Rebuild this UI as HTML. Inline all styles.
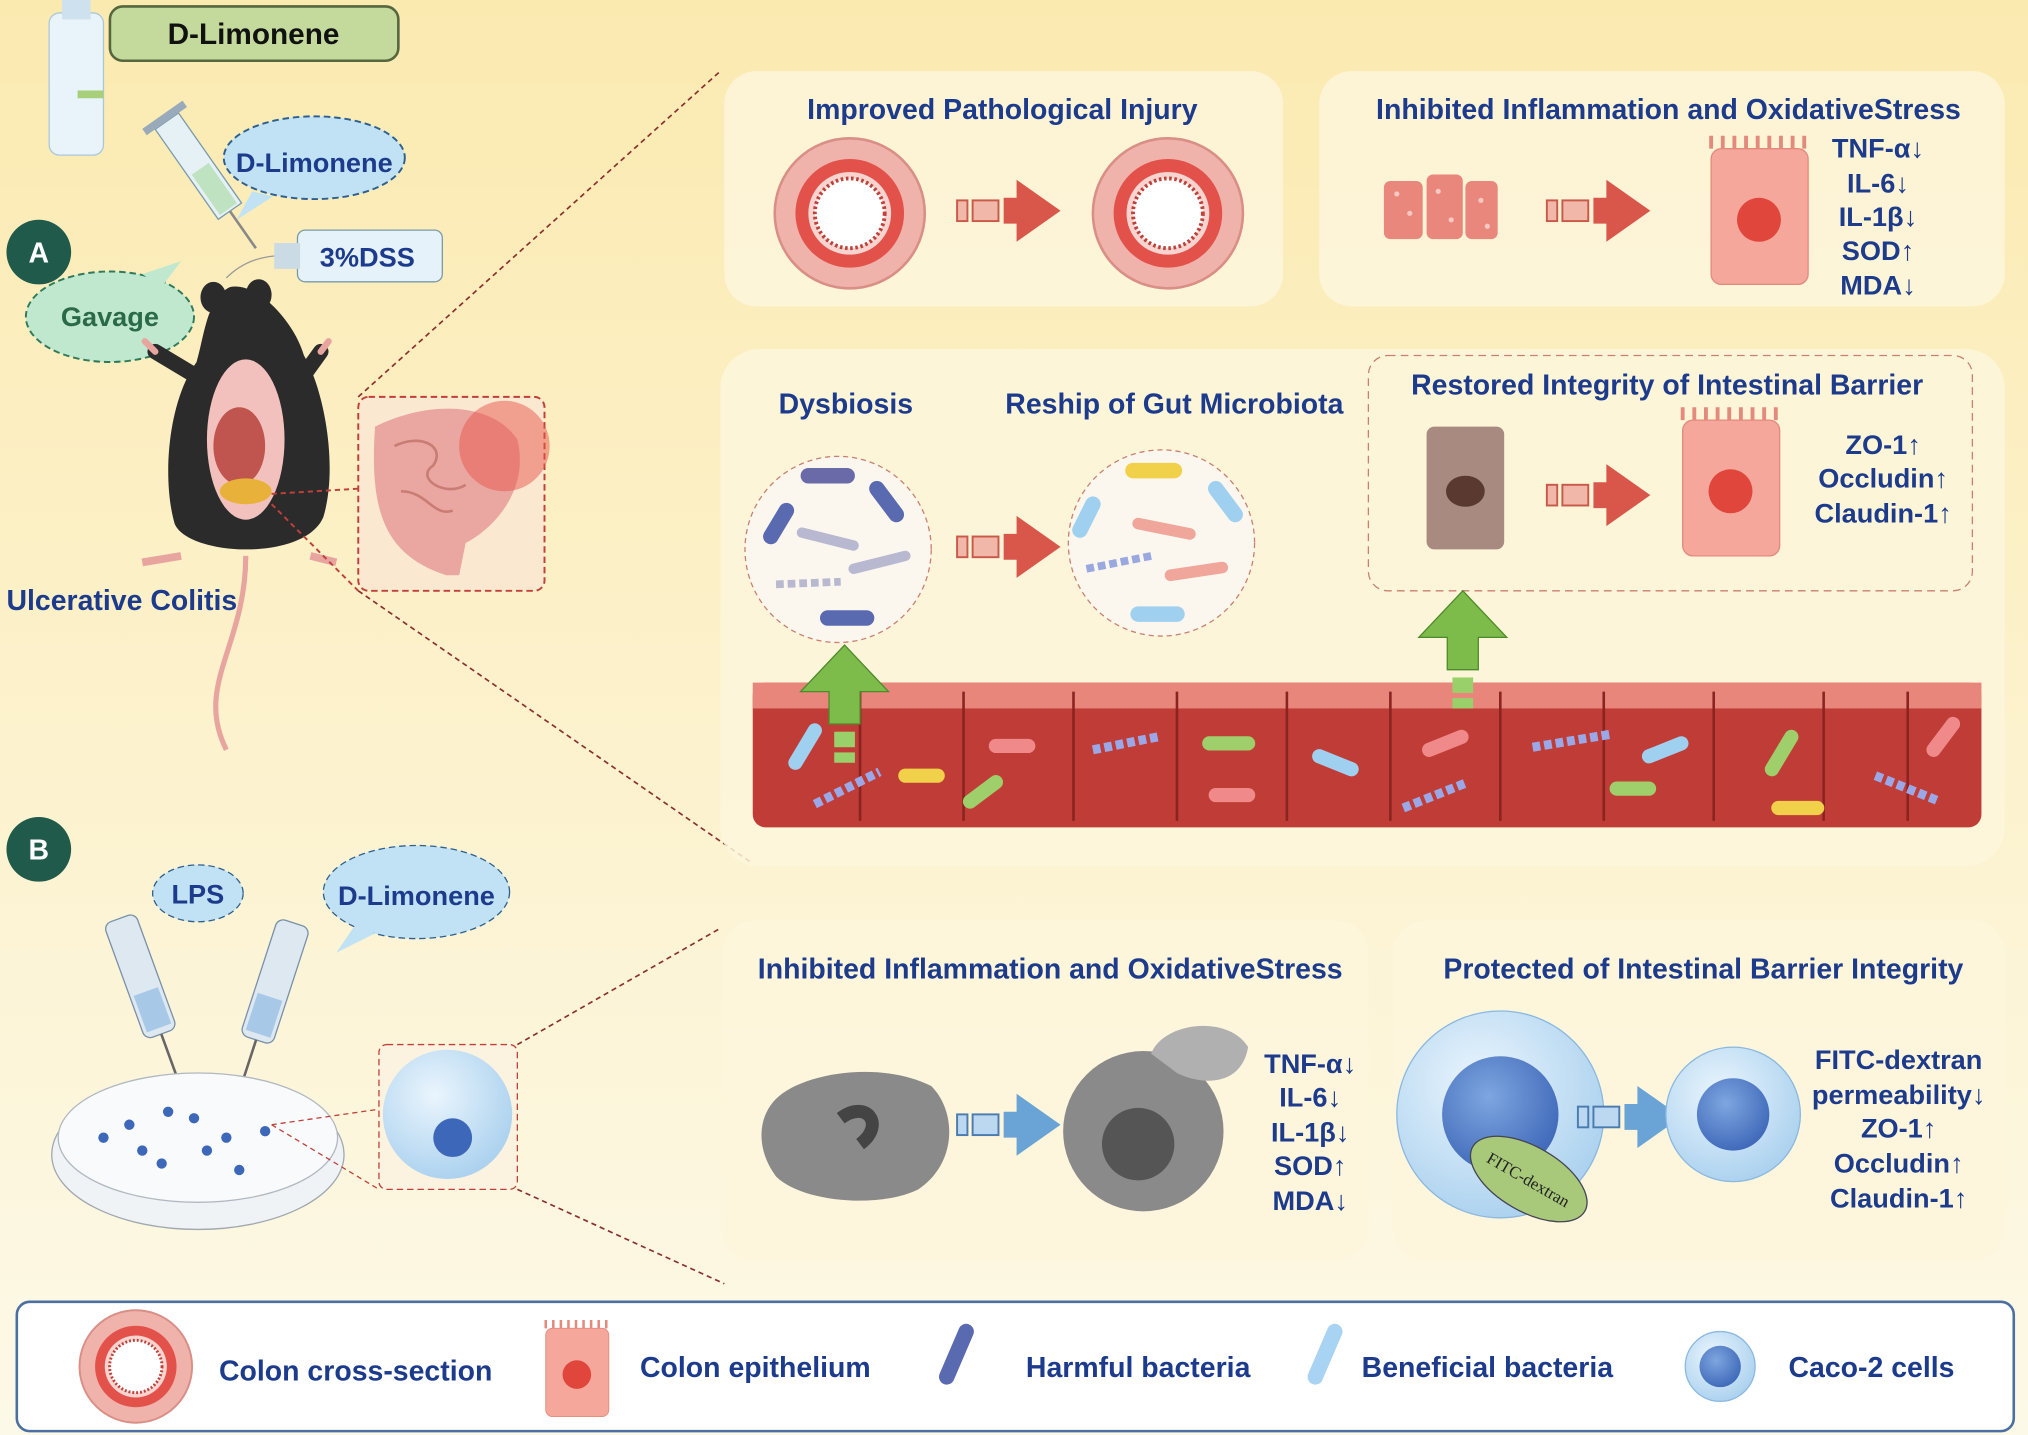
<!DOCTYPE html>
<html><head><meta charset="utf-8"><style>
html,body{margin:0;padding:0;width:2028px;height:1435px;overflow:hidden;background:#fcf5d6}
svg{display:block}
text{font-family:"Liberation Sans",Arial,sans-serif;font-weight:bold;fill:#1d3b8c}
</style></head><body>
<svg width="2028" height="1435" viewBox="0 0 1568 1110" preserveAspectRatio="none" xmlns="http://www.w3.org/2000/svg">
<defs>
<linearGradient id="bg" x1="0" y1="0" x2="0" y2="1"><stop offset="0" stop-color="#fbeab0"/><stop offset="0.6" stop-color="#fcf3d2"/><stop offset="1" stop-color="#fdf9e8"/></linearGradient>
<radialGradient id="cell" cx="0.4" cy="0.35" r="0.7"><stop offset="0" stop-color="#eaf5fd"/><stop offset="1" stop-color="#a9d0ee"/></radialGradient>
<radialGradient id="nuc" cx="0.4" cy="0.35" r="0.7"><stop offset="0" stop-color="#7ea6e0"/><stop offset="1" stop-color="#3d67b8"/></radialGradient>
<g id="colon"><circle r="58" fill="#f0b3ac" stroke="#d98e86" stroke-width="2"/><circle r="42" fill="#e2524a"/><circle r="32" fill="#f7d4cf"/><circle r="27" fill="#fff" stroke="#c0403a" stroke-width="3" stroke-dasharray="2 2"/></g>
<g id="epi"><rect x="-37" y="-50" width="75" height="105" rx="8" fill="#f4a79a" stroke="#e38a7d"/><path d="M-37,-50 v-10 M-28,-50 v-10 M-19,-50 v-10 M-10,-50 v-10 M-1,-50 v-10 M8,-50 v-10 M17,-50 v-10 M26,-50 v-10 M35,-50 v-10" stroke="#e38a7d" stroke-width="3"/><circle cx="0" cy="5" r="17" fill="#e0463c"/></g>
<g id="arr"><rect x="0" y="-8" width="8" height="16" fill="#f1b7a8" stroke="#c95a4a" stroke-width="1.5"/><rect x="12" y="-8" width="20" height="16" fill="#f1b7a8" stroke="#c95a4a" stroke-width="1.5"/><path d="M36,-10 h10 v-14 l34,24 -34,24 v-14 h-10z" fill="#d9564a"/></g>
<g id="arrb"><rect x="0" y="-8" width="8" height="16" fill="#bcd7f0" stroke="#4a7cb0" stroke-width="1.5"/><rect x="12" y="-8" width="20" height="16" fill="#bcd7f0" stroke="#4a7cb0" stroke-width="1.5"/><path d="M36,-10 h10 v-14 l34,24 -34,24 v-14 h-10z" fill="#6aa3d6"/></g>
<g id="garr"><path d="M-12,0 v-25 h-22 l34,-36 34,36 h-22 v25z" fill="#7dbb4a" stroke="#4e8a2a"/><rect x="-8" y="6" width="16" height="12" fill="#9ad06a"/><rect x="-8" y="22" width="16" height="8" fill="#9ad06a"/></g>
</defs>
<rect width="1568" height="1110" fill="url(#bg)"/>

<rect x="38" y="10" width="42" height="110" rx="8" fill="#e8f3fa" stroke="#aac8dc"/>
<rect x="48" y="0" width="22" height="15" fill="#cde2ee"/>
<rect x="60" y="70" width="20" height="6" fill="#a8cf7a"/>
<rect x="85" y="5" width="223" height="42" rx="10" fill="#c3da9c" stroke="#56663e" stroke-width="2"/>
<text x="196" y="34" font-size="23" text-anchor="middle" style="fill:#111">D-Limonene</text>
<ellipse cx="243" cy="122" rx="70" ry="32" fill="#c0e2f4" stroke="#2f5f8f" stroke-dasharray="5 3" stroke-width="1.5"/>
<path d="M195,148 l-12,22 28,-18z" fill="#c0e2f4"/>
<text x="243" y="133" font-size="21" text-anchor="middle">D-Limonene</text>
<g transform="translate(120,100) rotate(-35)"><rect x="0" y="0" width="22" height="85" fill="#e6f1f6" stroke="#7a9aaa"/><rect x="3" y="45" width="16" height="38" fill="#bfe2c0"/><rect x="-8" y="-6" width="38" height="6" fill="#9ab"/><line x1="11" y1="85" x2="11" y2="120" stroke="#888" stroke-width="2"/></g>
<rect x="230" y="178" width="112" height="40" rx="6" fill="#e6f2fa" stroke="#7a9aaa"/>
<rect x="212" y="188" width="20" height="20" fill="#cbdbe6"/>
<text x="284" y="206" font-size="21" text-anchor="middle">3%DSS</text>
<path d="M212,198 Q190,200 175,215" stroke="#999" fill="none"/>
<circle cx="30" cy="195" r="25" fill="#1f5a4b"/><text x="30" y="203" font-size="22" text-anchor="middle" style="fill:#fff">A</text>
<ellipse cx="85" cy="245" rx="65" ry="35" fill="#bfe8cf" stroke="#2f7a5a" stroke-dasharray="5 3" stroke-width="1.5"/>
<path d="M110,212 l30,-10 -15,20z" fill="#bfe8cf"/>
<text x="85" y="252" font-size="21" text-anchor="middle" style="fill:#2a6a4a">Gavage</text>
<!-- mouse -->
<path d="M178,222 C160,230 158,260 152,280 C130,310 125,370 135,405 C145,430 235,435 250,400 C262,360 250,300 235,275 C228,250 200,218 178,222z" fill="#2b2b2b"/>
<ellipse cx="165" cy="230" rx="10" ry="12" fill="#2b2b2b"/><ellipse cx="200" cy="228" rx="10" ry="12" fill="#2b2b2b"/>
<path d="M150,290 L120,272 M235,290 L248,272" stroke="#2b2b2b" stroke-width="12" stroke-linecap="round"/>
<path d="M120,272 l-8,-8 M248,272 l6,-8" stroke="#e8a5a0" stroke-width="5" stroke-linecap="round"/>
<ellipse cx="190" cy="340" rx="30" ry="62" fill="#f3c1bd"/>
<ellipse cx="185" cy="345" rx="20" ry="30" fill="#c0544e"/>
<ellipse cx="190" cy="380" rx="20" ry="10" fill="#e8b23a"/>
<path d="M190,430 C190,500 150,530 175,580" stroke="#e8a5a0" stroke-width="4" fill="none"/>
<path d="M140,430 l-30,5 M240,430 l20,5" stroke="#e8a5a0" stroke-width="6"/>
<rect x="277" y="307" width="144" height="150" rx="8" fill="#fbe8d0" stroke="#c0403a" stroke-dasharray="5 3" stroke-width="1.5"/>
<path d="M290,330 C330,310 380,310 400,340 C410,380 380,410 360,420 L355,445 L345,445 C300,430 285,400 290,330z" fill="#eaa6a0"/>
<path d="M305,345 c20,-10 40,0 30,15 c-15,10 10,25 25,15 M310,380 c20,0 25,20 40,15" stroke="#c97c74" fill="none" stroke-width="2"/>
<circle cx="390" cy="345" r="35" fill="#e8554c" opacity="0.5"/>
<path d="M210,382 L277,378 M210,390 L277,457" stroke="#c0403a" stroke-dasharray="4 3" stroke-width="1.5"/>
<text x="5" y="472" font-size="22">Ulcerative Colitis</text>
<path d="M277,307 L557,55 M277,457 L582,668" stroke="#8a3030" stroke-dasharray="4 3" stroke-width="1.3"/>

<rect x="560" y="55" width="432" height="182" rx="25" fill="#fdf6dc" opacity="0.85"/>
<text x="775" y="92" font-size="22" text-anchor="middle">Improved Pathological Injury</text>
<use href="#colon" x="657" y="165"/>
<use href="#colon" x="903" y="165"/>
<use href="#arr" x="740" y="163"/>
<rect x="1020" y="55" width="530" height="182" rx="25" fill="#fdf6dc" opacity="0.85"/>
<text x="1290" y="92" font-size="22" text-anchor="middle">Inhibited Inflammation and OxidativeStress</text>
<g fill="#e9877c"><rect x="1070" y="140" width="30" height="45" rx="5"/><rect x="1103" y="135" width="28" height="50" rx="5"/><rect x="1133" y="140" width="25" height="45" rx="5"/></g>
<g fill="#f7c9c2"><circle cx="1080" cy="150" r="2"/><circle cx="1090" cy="165" r="2"/><circle cx="1112" cy="148" r="2"/><circle cx="1122" cy="170" r="2"/><circle cx="1145" cy="155" r="2"/><circle cx="1150" cy="175" r="2"/></g>
<use href="#arr" x="1196" y="163"/>
<use href="#epi" x="1360" y="165"/>
<g font-size="21" text-anchor="middle"><text x="1452" y="122">TNF-α↓</text><text x="1452" y="149">IL-6↓</text><text x="1452" y="175">IL-1β↓</text><text x="1452" y="201">SOD↑</text><text x="1452" y="228">MDA↓</text></g>

<rect x="557" y="270" width="993" height="400" rx="30" fill="#fdf6dc" opacity="0.85"/>
<text x="654" y="320" font-size="22" text-anchor="middle">Dysbiosis</text>
<text x="908" y="320" font-size="22" text-anchor="middle">Reship of Gut Microbiota</text>
<circle cx="648" cy="425" r="72" fill="#fbf7ee" stroke="#c98070" stroke-dasharray="4 3"/>
<circle cx="898" cy="420" r="72" fill="#fbf7ee" stroke="#c98070" stroke-dasharray="4 3"/>
<g stroke-linecap="round" stroke-width="12" fill="none">
<path d="M625,368 h30" stroke="#6a6aa8"/><path d="M678,378 l15,20" stroke="#5a6ab0"/><path d="M608,395 l-12,20" stroke="#5a6ab0"/><path d="M640,478 h30" stroke="#5a6ab0"/>
<path d="M620,412 l40,10" stroke="#b8b8d0" stroke-width="8"/><path d="M660,440 l40,-10" stroke="#b8b8d0" stroke-width="8"/>
<path d="M876,364 h32" stroke="#f1d04a"/><path d="M940,378 l15,20" stroke="#9fd0f0"/><path d="M845,390 l-10,20" stroke="#9fd0f0"/><path d="M880,475 h30" stroke="#9fd0f0"/>
<path d="M880,405 l40,8" stroke="#f0a69a" stroke-width="9"/><path d="M905,445 l40,-6" stroke="#f0a69a" stroke-width="9"/>
</g>
<path d="M600,452 l50,-2" stroke="#b8b8d0" stroke-width="6" stroke-dasharray="6 3"/>
<path d="M840,440 l50,-10" stroke="#9aa8e0" stroke-width="6" stroke-dasharray="6 3"/>
<use href="#arr" x="740" y="423"/>
<rect x="1058" y="275" width="467" height="182" rx="15" fill="none" stroke="#c98070" stroke-dasharray="6 4"/>
<text x="1289" y="305" font-size="22" text-anchor="middle">Restored Integrity of Intestinal Barrier</text>
<g transform="translate(1133,375)"><rect x="-30" y="-45" width="60" height="95" rx="6" fill="#a88a80"/><ellipse cx="0" cy="5" rx="15" ry="12" fill="#5a3a30"/></g>
<use href="#arr" x="1196" y="383"/>
<use href="#epi" x="1338" y="375"/>
<g font-size="21" text-anchor="middle"><text x="1456" y="351">ZO-1↑</text><text x="1456" y="377">Occludin↑</text><text x="1456" y="404">Claudin-1↑</text></g>
<rect x="582" y="528" width="950" height="112" rx="10" fill="#c03c36"/>
<rect x="582" y="528" width="950" height="20" fill="#e8867c"/>
<g stroke="#8a2420" stroke-width="2" fill="none">
<path d="M665,535 v100 M745,535 v100 M830,535 v100 M910,535 v100 M995,535 v100 M1075,535 v100 M1160,535 v100 M1240,535 v100 M1325,535 v100 M1410,535 v100 M1475,535 v100"/></g>
<g stroke-linecap="round" stroke-width="11" fill="none">
<path d="M615,590 l15,-25" stroke="#9fd0f0"/><path d="M700,600 h25" stroke="#f1d04a"/><path d="M750,620 l20,-15" stroke="#9fcf6a"/><path d="M770,577 h25" stroke="#f08a8a"/><path d="M935,575 h30" stroke="#9fcf6a"/><path d="M940,615 h25" stroke="#f08a8a"/><path d="M1020,585 l25,10" stroke="#9fd0f0"/><path d="M1105,580 l25,-10" stroke="#f08a8a"/><path d="M1250,610 h25" stroke="#9fcf6a"/><path d="M1275,585 l25,-10" stroke="#9fd0f0"/><path d="M1370,595 l15,-25" stroke="#9fcf6a"/><path d="M1375,625 h30" stroke="#f1d04a"/><path d="M1495,580 l15,-20" stroke="#f08a8a"/>
</g>
<g stroke="#9aa8e8" stroke-width="7" stroke-dasharray="6 3" fill="none"><path d="M630,622 l50,-25"/><path d="M845,580 l50,-10"/><path d="M1085,625 l50,-20"/><path d="M1185,578 l60,-10"/><path d="M1450,600 l50,20"/></g>
<use href="#garr" x="653" y="560"/>
<use href="#garr" x="1131" y="518"/>

<circle cx="30" cy="657" r="25" fill="#1f5a4b"/><text x="30" y="665" font-size="22" text-anchor="middle" style="fill:#fff">B</text>
<ellipse cx="153" cy="691" rx="35" ry="22" fill="#c0e2f4" stroke="#2f5f8f" stroke-dasharray="5 3"/>
<text x="153" y="699" font-size="21" text-anchor="middle">LPS</text>
<ellipse cx="322" cy="690" rx="72" ry="36" fill="#c0e2f4" stroke="#2f5f8f" stroke-dasharray="5 3"/>
<path d="M275,715 l-15,22 30,-15z" fill="#c0e2f4"/>
<text x="322" y="700" font-size="21" text-anchor="middle">D-Limonene</text>
<g transform="translate(80,715) rotate(-20)"><rect x="0" y="0" width="26" height="95" rx="6" fill="#dde8f0" stroke="#7890a8"/><rect x="3" y="60" width="20" height="30" fill="#a8c8e8"/><line x1="13" y1="95" x2="13" y2="175" stroke="#666" stroke-width="2"/></g>
<g transform="translate(215,710) rotate(18)"><rect x="0" y="0" width="26" height="95" rx="6" fill="#dde8f0" stroke="#7890a8"/><rect x="3" y="60" width="20" height="30" fill="#a8c8e8"/><line x1="13" y1="95" x2="13" y2="175" stroke="#666" stroke-width="2"/></g>
<ellipse cx="153" cy="893" rx="113" ry="58" fill="#f0f3f6" stroke="#a0a8b0"/>
<ellipse cx="153" cy="880" rx="108" ry="50" fill="#f8fafc" stroke="#b0b8c0"/>
<g fill="#3d67b8"><circle cx="100" cy="870" r="4"/><circle cx="130" cy="860" r="4"/><circle cx="160" cy="890" r="4"/><circle cx="185" cy="905" r="4"/><circle cx="110" cy="890" r="4"/><circle cx="80" cy="880" r="4"/><circle cx="205" cy="875" r="4"/><circle cx="150" cy="865" r="4"/><circle cx="175" cy="880" r="4"/><circle cx="125" cy="900" r="4"/></g>
<rect x="293" y="808" width="107" height="112" rx="6" fill="#fbf3e0" stroke="#c0403a" stroke-dasharray="5 3"/>
<circle cx="346" cy="862" r="50" fill="url(#cell)"/><circle cx="350" cy="880" r="15" fill="#3d67b8"/>
<path d="M210,870 L293,858 M210,870 L293,920" stroke="#c0403a" stroke-dasharray="4 3"/>
<path d="M400,808 L557,718 M400,920 L560,993" stroke="#8a3030" stroke-dasharray="4 3" stroke-width="1.3"/>

<rect x="558" y="712" width="500" height="263" rx="25" fill="#fdf6dc" opacity="0.85"/>
<text x="812" y="757" font-size="22" text-anchor="middle">Inhibited Inflammation and OxidativeStress</text>
<path d="M600,850 C620,830 680,820 720,840 C740,860 740,900 710,920 C680,935 620,930 600,910 C585,890 585,865 600,850z" fill="#8a8a8a"/>
<path d="M650,865 c20,-15 35,5 15,20" stroke="#444" stroke-width="10" fill="none"/>
<use href="#arrb" x="740" y="870"/>
<circle cx="884" cy="875" r="62" fill="#8a8a8a"/><circle cx="880" cy="885" r="28" fill="#555"/>
<path d="M890,815 C900,790 950,785 965,810 C960,840 930,840 910,830z" fill="#b0b0b0"/>
<g font-size="21" text-anchor="middle"><text x="1013" y="830">TNF-α↓</text><text x="1013" y="856">IL-6↓</text><text x="1013" y="883">IL-1β↓</text><text x="1013" y="909">SOD↑</text><text x="1013" y="936">MDA↓</text></g>

<rect x="1077" y="712" width="473" height="263" rx="25" fill="#fdf6dc" opacity="0.85"/>
<text x="1317" y="757" font-size="22" text-anchor="middle">Protected of Intestinal Barrier Integrity</text>
<circle cx="1160" cy="862" r="80" fill="url(#cell)" stroke="#8ab8e0"/><circle cx="1160" cy="862" r="45" fill="url(#nuc)"/>
<g transform="translate(1182,912) rotate(30)"><ellipse rx="50" ry="25" fill="#a8c87a" stroke="#445"/><text x="0" y="5" font-size="13" text-anchor="middle" style="fill:#222;font-weight:normal;font-family:'Liberation Serif',serif">FITC-dextran</text></g>
<use href="#arrb" x="1220" y="864"/>
<circle cx="1340" cy="862" r="52" fill="url(#cell)" stroke="#8ab8e0"/><circle cx="1340" cy="862" r="28" fill="url(#nuc)"/>
<g font-size="21" text-anchor="middle"><text x="1468" y="827">FITC-dextran</text><text x="1468" y="854">permeability↓</text><text x="1468" y="880">ZO-1↑</text><text x="1468" y="907">Occludin↑</text><text x="1468" y="934">Claudin-1↑</text></g>

<rect x="13" y="1007" width="1544" height="100" rx="10" fill="#fff" stroke="#4a6fa0" stroke-width="2"/>
<g transform="translate(105,1057) scale(0.75)"><use href="#colon"/></g>
<text x="275" y="1068" font-size="22" text-anchor="middle">Colon cross-section</text>
<g transform="translate(446,1060) scale(0.65)"><use href="#epi"/></g>
<text x="584" y="1065" font-size="22" text-anchor="middle">Colon epithelium</text>
<path d="M747,1030 l-15,35" stroke="#5a6ab0" stroke-width="12" stroke-linecap="round"/>
<text x="880" y="1065" font-size="22" text-anchor="middle">Harmful bacteria</text>
<path d="M1032,1030 l-15,35" stroke="#a9d3f2" stroke-width="12" stroke-linecap="round"/>
<text x="1150" y="1065" font-size="22" text-anchor="middle">Beneficial bacteria</text>
<circle cx="1330" cy="1057" r="27" fill="url(#cell)" stroke="#8ab8e0"/><circle cx="1330" cy="1057" r="16" fill="url(#nuc)"/>
<text x="1447" y="1065" font-size="22" text-anchor="middle">Caco-2 cells</text>
</svg>
</body></html>
